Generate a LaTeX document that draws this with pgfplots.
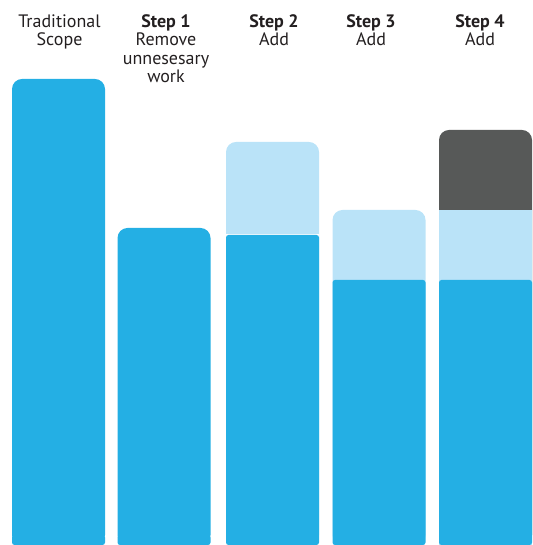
\documentclass[border=0pt]{standalone}
\usepackage{pgfplots}
\pgfplotsset{compat=1.18}
\usepackage{fontspec}
\setmainfont{PT Sans}
\definecolor{barblue}{HTML}{24AFE4}
\definecolor{barlight}{HTML}{BAE3F8}
\definecolor{bargray}{HTML}{575958}
\definecolor{txt}{HTML}{231F20}
\tikzset{header/.style={font=\fontsize{18}{18.5}\selectfont, text=txt, anchor=base, inner sep=0pt}}

\begin{document}
\begin{tikzpicture}
\begin{axis}[
  width=532pt, height=545pt, scale only axis,
  xmin=0, xmax=532, ymin=0, ymax=545,
  hide axis,
  ybar, bar width=93, bar shift=0pt,
  every axis plot/.append style={draw=none},
]
% full-height bars, top colour, rounded top corners
\addplot[fill=barblue, rounded corners=10pt] coordinates {(58.5,466) (164,317)};
\addplot[fill=barlight, rounded corners=10pt] coordinates {(272.5,403) (379,335)};
\addplot[fill=bargray, rounded corners=10pt] coordinates {(485.5,415)};
% middle layer in step 4
\addplot[fill=barlight] coordinates {(485.5,335)};
% thin white seam in step 2
\addplot[fill=white] coordinates {(272.5,311.2)};
% base layer
\addplot[fill=barblue, rounded corners=2.5pt] coordinates {(58.5,10) (164,10) (272.5,310) (379,265) (485.5,265)};

\node[header] at (axis cs:59.5,517.5) {Traditional};
\node[header] at (axis cs:59.5,499) {Scope};
\node[header] at (axis cs:166,517.5) {\bfseries Step 1};
\node[header] at (axis cs:166,499) {Remove};
\node[header] at (axis cs:166,480.5) {unnesesary};
\node[header] at (axis cs:166,462) {work};
\node[header] at (axis cs:274,517.5) {\bfseries Step 2};
\node[header] at (axis cs:274,499) {Add};
\node[header] at (axis cs:371,517.5) {\bfseries Step 3};
\node[header] at (axis cs:371,499) {Add};
\node[header] at (axis cs:480,517.5) {\bfseries Step 4};
\node[header] at (axis cs:480,499) {Add};
\end{axis}
\path (current axis.south west) rectangle (current axis.north east);
\end{tikzpicture}
\end{document}
